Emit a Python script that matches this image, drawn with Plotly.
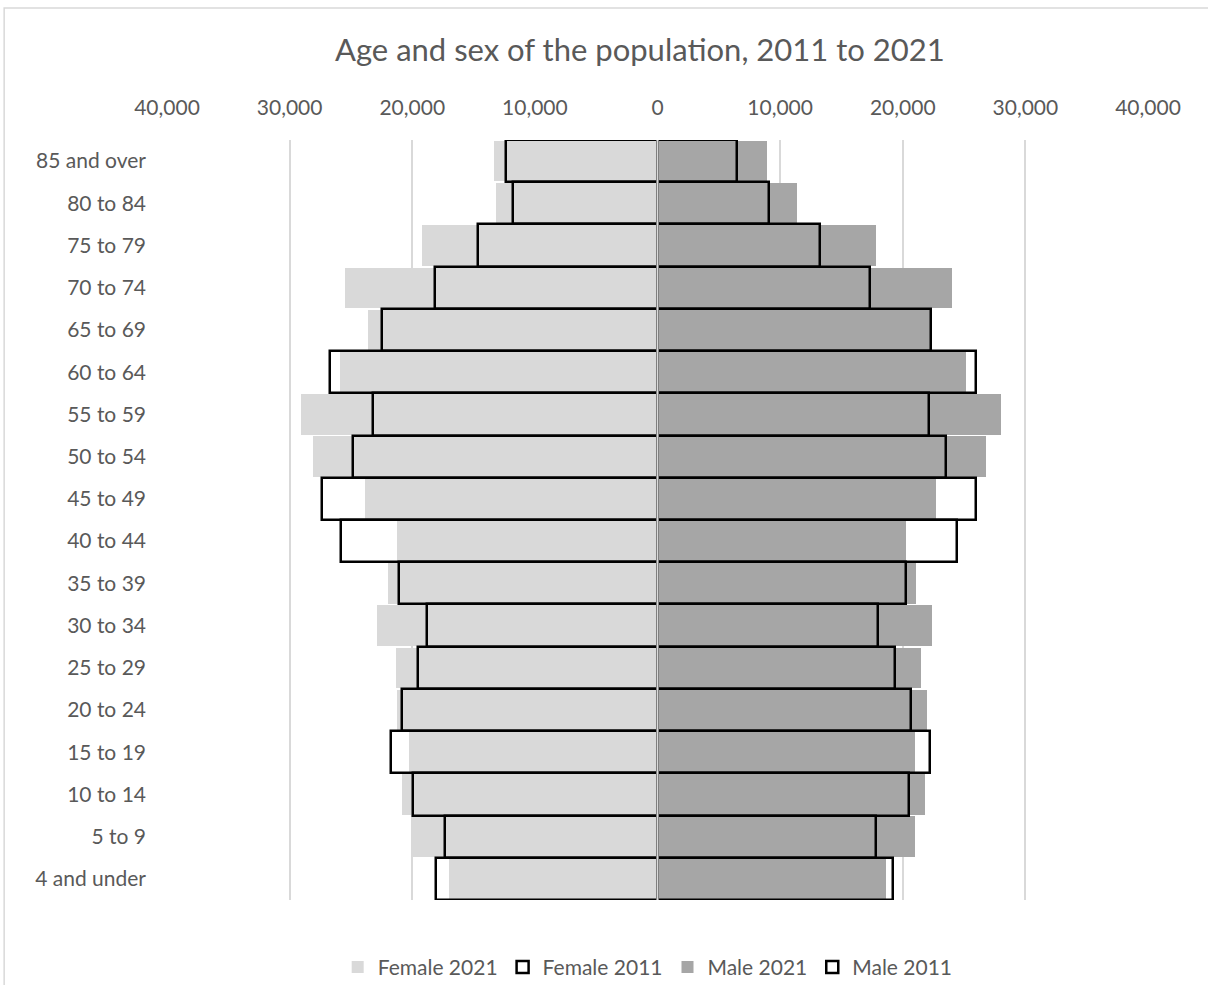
import plotly.graph_objects as go

# Age bands, youngest first (plotly stacks categories bottom-up)
age_bands = ["4 and under", "5 to 9", "10 to 14", "15 to 19", "20 to 24", "25 to 29",
             "30 to 34", "35 to 39", "40 to 44", "45 to 49", "50 to 54", "55 to 59",
             "60 to 64", "65 to 69", "70 to 74", "75 to 79", "80 to 84", "85 and over"]

female_2021 = [16980, 20100, 20840, 20270, 21210, 21330, 22880, 21980, 21270, 23850,
               28100, 29100, 25900, 23600, 25500, 19180, 13200, 13340]
female_2011 = [18070, 17300, 19910, 21730, 20840, 19540, 18830, 21050, 25800, 27360,
               24800, 23200, 26700, 22500, 18150, 14650, 11760, 12330]
male_2021 = [18660, 21000, 21840, 21030, 21980, 21490, 22360, 21100, 20290, 22740,
             26760, 28040, 25160, 22200, 24040, 17850, 11390, 8940]
male_2011 = [19210, 17790, 20540, 22200, 20680, 19370, 17990, 20290, 24430, 26000,
             23550, 22110, 26000, 22300, 17360, 13230, 9100, 6500]

tick_vals = [-40000, -30000, -20000, -10000, 0, 10000, 20000, 30000, 40000]
tick_text = ["40,000", "30,000", "20,000", "10,000", "0", "10,000", "20,000", "30,000", "40,000"]

FONT = "Lato"
TEXT_GREY = "#595959"
LABEL_SIZE = 21

fig = go.Figure()

fig.add_trace(go.Bar(
    y=age_bands, x=[-v for v in female_2021], orientation="h", name="Female 2021",
    marker=dict(color="#d9d9d9", line=dict(width=0)), width=0.96,
))
fig.add_trace(go.Bar(
    y=age_bands, x=[-v for v in female_2011], orientation="h", name="Female 2011",
    marker=dict(color="rgba(0,0,0,0)", line=dict(color="black", width=2.5)), width=1.0,
))
fig.add_trace(go.Bar(
    y=age_bands, x=male_2021, orientation="h", name="Male 2021",
    marker=dict(color="#a6a6a6", line=dict(width=0)), width=0.96,
))
fig.add_trace(go.Bar(
    y=age_bands, x=male_2011, orientation="h", name="Male 2011",
    marker=dict(color="rgba(0,0,0,0)", line=dict(color="black", width=2.5)), width=1.0,
))

# zero axis line over the bars
fig.add_shape(type="line", xref="x", yref="paper", x0=0, x1=0, y0=0, y1=1,
              line=dict(color="#7f7f7f", width=3), layer="above")
fig.add_shape(type="line", xref="x", yref="paper", x0=0, x1=0, y0=0, y1=1,
              line=dict(color="#d9d9d9", width=1), layer="above")

# chart border
fig.add_shape(type="rect", xref="paper", yref="paper",
              x0=-0.166, x1=1.1, y0=-0.13, y1=1.1737,
              line=dict(color="#d9d9d9", width=1.5), layer="below")

fig.update_layout(
    width=1208, height=985,
    margin=dict(l=167, r=60, t=140, b=85, autoexpand=False),
    paper_bgcolor="white", plot_bgcolor="white",
    barmode="overlay", bargap=0,
    font=dict(family=FONT, color=TEXT_GREY, size=LABEL_SIZE),
    title=dict(text="Age and sex of the population, 2011 to 2021",
               x=0.482, xref="paper", xanchor="center",
               y=0.949, yanchor="middle",
               font=dict(family=FONT, size=31, color=TEXT_GREY)),
    xaxis=dict(side="top", range=[-40000, 40000], tickvals=tick_vals, ticktext=tick_text,
               showgrid=True, gridcolor="#d9d9d9", gridwidth=1.5, zeroline=False,
               showline=False, ticks="", ticklabelstandoff=20,
               tickfont=dict(family=FONT, size=LABEL_SIZE, color=TEXT_GREY)),
    yaxis=dict(type="category", categoryorder="array", categoryarray=age_bands,
               showgrid=False, zeroline=False, showline=False, ticks="",
               ticklabelstandoff=20,
               tickfont=dict(family=FONT, size=LABEL_SIZE, color=TEXT_GREY)),
    legend=dict(orientation="h", x=0.49, xanchor="center",
                yref="container", y=0.018, yanchor="middle",
                font=dict(family=FONT, size=LABEL_SIZE, color=TEXT_GREY),
                traceorder="normal", itemwidth=30),
    showlegend=True,
)

fig.write_html("out.html")
